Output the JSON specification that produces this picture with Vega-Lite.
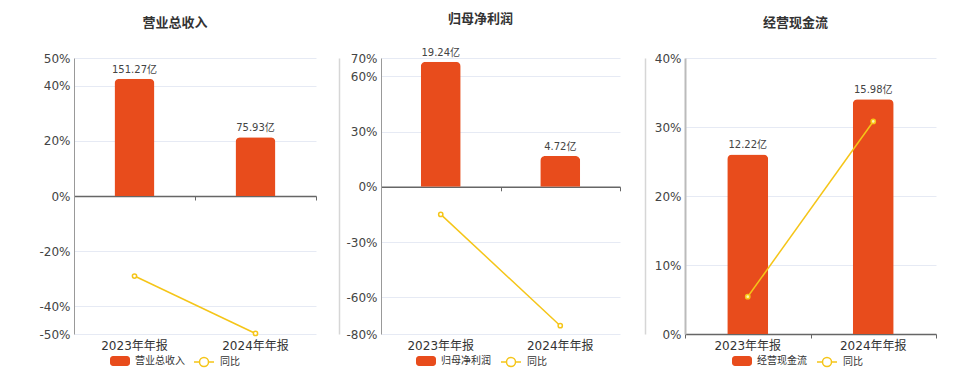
{
  "$schema": "https://vega.github.io/schema/vega-lite/v6.json",
  "background": "white",
  "padding": {"left": 38, "top": 12, "right": 0, "bottom": 0},
  "bounds": "flush",
  "spacing": 65,
  "config": {
    "font": "DejaVu Sans, Noto Sans CJK SC",
    "view": {"stroke": null},
    "title": {"font": "Noto Sans CJK SC", "fontSize": 13, "fontWeight": "bold", "color": "#333333", "anchor": "middle", "baseline": "bottom", "offset": 22},
    "legend": {"labelFont": "Noto Sans CJK SC", "labelFontSize": 10, "labelColor": "#333333", "labelOffset": 5, "padding": 0, "title": null}
  },
  "resolve": {"legend": {"fill": "independent", "stroke": "independent"}},
  "hconcat": [
    {
      "width": 242, "height": 276,
      "title": {"text": "营业总收入", "dx": -20},
      "data": {"values": [
        {"period": "2023年年报", "value": 151.27, "label": "151.27亿", "yoy": -29.0},
        {"period": "2024年年报", "value": 75.93, "label": "75.93亿", "yoy": -49.8}
      ]},
      "resolve": {"scale": {"y": "independent", "fill": "independent", "stroke": "independent"}, "axis": {"x": "independent", "y": "independent"}},
      "layer": [
        {
          "mark": {"type": "bar", "size": 40, "cornerRadiusTopLeft": 5, "cornerRadiusTopRight": 5},
          "encoding": {
            "x": {"field": "period", "type": "nominal", "sort": null, "scale": {"paddingInner": 0, "paddingOuter": 0}, "axis": {"orient": "bottom", "title": null, "labels": false, "ticks": true, "tickBand": "extent", "tickSize": 4, "tickColor": "#666666", "domainColor": "#666666", "domainWidth": 1.5, "offset": -138, "grid": false}},
            "y": {"field": "value", "type": "quantitative", "scale": {"domain": [-178, 178], "nice": false, "zero": false}, "axis": null},
            "fill": {"datum": "营业总收入", "type": "nominal", "scale": {"range": ["#e84c1c"]}, "legend": {"orient": "none", "legendX": 36, "legendY": 293, "symbolType": "M-0.7,-0.5L0.7,-0.5A0.3,0.3 0 0 1 1,-0.2L1,0.2A0.3,0.3 0 0 1 0.7,0.5L-0.7,0.5A0.3,0.3 0 0 1 -1,0.2L-1,-0.2A0.3,0.3 0 0 1 -0.7,-0.5Z", "symbolSize": 400, "symbolStrokeWidth": 0}}
          }
        },
        {
          "mark": {"type": "text", "baseline": "bottom", "dy": -4, "fontSize": 10, "color": "#444444"},
          "encoding": {
            "x": {"field": "period", "type": "nominal", "sort": null, "axis": null},
            "y": {"field": "value", "type": "quantitative", "scale": {"domain": [-178, 178], "nice": false, "zero": false}, "axis": null},
            "text": {"field": "label"}
          }
        },
        {
          "mark": {"type": "line", "color": "#f5c518", "strokeWidth": 1.5},
          "encoding": {
            "x": {"field": "period", "type": "nominal", "sort": null, "axis": {"orient": "bottom", "title": null, "domain": false, "ticks": false, "labelAngle": 0, "labelFontSize": 12, "labelColor": "#333333", "labelPadding": 6}},
            "y": {"field": "yoy", "type": "quantitative", "scale": {"domain": [-50, 50], "nice": false}, "axis": {"orient": "left", "title": null, "values": [-50, -40, -20, 0, 20, 40, 50], "labelExpr": "datum.value + '%'", "ticks": false, "labelPadding": 4, "labelFontSize": 12, "labelColor": "#444444", "domainColor": "#999999", "grid": true, "gridColor": "#e6eaf4"}},
            "stroke": {"datum": "同比", "type": "nominal", "scale": {"range": ["#f5c518"]}, "legend": {"orient": "none", "legendX": 119, "legendY": 293, "symbolType": "M-1,0L-0.45,0M0.45,0L1,0M0.45,0A0.45,0.45 0 1 1 -0.45,0A0.45,0.45 0 1 1 0.45,0Z", "symbolSize": 400, "symbolStrokeWidth": 1.5, "encode": {"symbols": {"update": {"fill": {"value": "white"}}}}}}
          }
        },
        {
          "mark": {"type": "point", "filled": true, "fill": "#ffffff", "stroke": "#f5c518", "strokeWidth": 1.5, "size": 18, "opacity": 1},
          "encoding": {
            "x": {"field": "period", "type": "nominal", "sort": null, "axis": null},
            "y": {"field": "yoy", "type": "quantitative", "scale": {"domain": [-50, 50], "nice": false}, "axis": null}
          }
        }
      ]
    },
    {
      "width": 239, "height": 276,
      "title": {"text": "归母净利润", "dx": -20},
      "data": {"values": [
        {"period": "2023年年报", "value": 19.24, "label": "19.24亿", "yoy": -15.0},
        {"period": "2024年年报", "value": 4.72, "label": "4.72亿", "yoy": -75.5}
      ]},
      "resolve": {"scale": {"y": "independent", "fill": "independent", "stroke": "independent"}, "axis": {"x": "independent", "y": "independent"}},
      "layer": [
        {
          "mark": {"type": "bar", "size": 40, "cornerRadiusTopLeft": 5, "cornerRadiusTopRight": 5},
          "encoding": {
            "x": {"field": "period", "type": "nominal", "sort": null, "scale": {"paddingInner": 0, "paddingOuter": 0}, "axis": {"orient": "bottom", "title": null, "labels": false, "ticks": true, "tickBand": "extent", "tickSize": 4, "tickColor": "#666666", "domainColor": "#666666", "domainWidth": 1.5, "offset": -147.2, "grid": false}},
            "y": {"field": "value", "type": "quantitative", "scale": {"domain": [-22.64, 19.81], "nice": false, "zero": false}, "axis": {"orient": "left", "title": null, "labels": false, "ticks": false, "grid": false, "domainColor": "#d6d6d6", "domainWidth": 1.5, "offset": 42}},
            "fill": {"datum": "归母净利润", "type": "nominal", "scale": {"range": ["#e84c1c"]}, "legend": {"orient": "none", "legendX": 35, "legendY": 293, "symbolType": "M-0.7,-0.5L0.7,-0.5A0.3,0.3 0 0 1 1,-0.2L1,0.2A0.3,0.3 0 0 1 0.7,0.5L-0.7,0.5A0.3,0.3 0 0 1 -1,0.2L-1,-0.2A0.3,0.3 0 0 1 -0.7,-0.5Z", "symbolSize": 400, "symbolStrokeWidth": 0}}
          }
        },
        {
          "mark": {"type": "text", "baseline": "bottom", "dy": -4, "fontSize": 10, "color": "#444444"},
          "encoding": {
            "x": {"field": "period", "type": "nominal", "sort": null, "axis": null},
            "y": {"field": "value", "type": "quantitative", "scale": {"domain": [-22.64, 19.81], "nice": false, "zero": false}, "axis": null},
            "text": {"field": "label"}
          }
        },
        {
          "mark": {"type": "line", "color": "#f5c518", "strokeWidth": 1.5},
          "encoding": {
            "x": {"field": "period", "type": "nominal", "sort": null, "axis": {"orient": "bottom", "title": null, "domain": false, "ticks": false, "labelAngle": 0, "labelFontSize": 12, "labelColor": "#333333", "labelPadding": 6}},
            "y": {"field": "yoy", "type": "quantitative", "scale": {"domain": [-80, 70], "nice": false}, "axis": {"orient": "left", "title": null, "values": [-80, -60, -30, 0, 30, 60, 70], "labelExpr": "datum.value + '%'", "ticks": false, "labelPadding": 4, "labelFontSize": 12, "labelColor": "#444444", "domainColor": "#999999", "grid": true, "gridColor": "#e6eaf4"}},
            "stroke": {"datum": "同比", "type": "nominal", "scale": {"range": ["#f5c518"]}, "legend": {"orient": "none", "legendX": 119, "legendY": 293, "symbolType": "M-1,0L-0.45,0M0.45,0L1,0M0.45,0A0.45,0.45 0 1 1 -0.45,0A0.45,0.45 0 1 1 0.45,0Z", "symbolSize": 400, "symbolStrokeWidth": 1.5, "encode": {"symbols": {"update": {"fill": {"value": "white"}}}}}}
          }
        },
        {
          "mark": {"type": "point", "filled": true, "fill": "#ffffff", "stroke": "#f5c518", "strokeWidth": 1.5, "size": 18, "opacity": 1},
          "encoding": {
            "x": {"field": "period", "type": "nominal", "sort": null, "axis": null},
            "y": {"field": "yoy", "type": "quantitative", "scale": {"domain": [-80, 70], "nice": false}, "axis": null}
          }
        }
      ]
    },
    {
      "width": 251, "height": 276,
      "title": {"text": "经营现金流", "dx": -15},
      "data": {"values": [
        {"period": "2023年年报", "value": 12.22, "label": "12.22亿", "yoy": 5.4},
        {"period": "2024年年报", "value": 15.98, "label": "15.98亿", "yoy": 30.8}
      ]},
      "resolve": {"scale": {"y": "independent", "fill": "independent", "stroke": "independent"}, "axis": {"x": "independent", "y": "independent"}},
      "layer": [
        {
          "mark": {"type": "bar", "size": 41, "cornerRadiusTopLeft": 5, "cornerRadiusTopRight": 5},
          "encoding": {
            "x": {"field": "period", "type": "nominal", "sort": null, "scale": {"paddingInner": 0, "paddingOuter": 0}, "axis": {"orient": "bottom", "title": null, "labels": false, "ticks": true, "tickBand": "extent", "tickSize": 4, "tickColor": "#666666", "domainColor": "#666666", "domainWidth": 1.5, "offset": 0, "grid": false}},
            "y": {"field": "value", "type": "quantitative", "scale": {"domain": [0, 18.78], "nice": false, "zero": false}, "axis": {"orient": "left", "title": null, "labels": false, "ticks": false, "grid": false, "domainColor": "#d6d6d6", "domainWidth": 1.5, "offset": 40}},
            "fill": {"datum": "经营现金流", "type": "nominal", "scale": {"range": ["#e84c1c"]}, "legend": {"orient": "none", "legendX": 47, "legendY": 293, "symbolType": "M-0.7,-0.5L0.7,-0.5A0.3,0.3 0 0 1 1,-0.2L1,0.2A0.3,0.3 0 0 1 0.7,0.5L-0.7,0.5A0.3,0.3 0 0 1 -1,0.2L-1,-0.2A0.3,0.3 0 0 1 -0.7,-0.5Z", "symbolSize": 400, "symbolStrokeWidth": 0}}
          }
        },
        {
          "mark": {"type": "text", "baseline": "bottom", "dy": -4, "fontSize": 10, "color": "#444444"},
          "encoding": {
            "x": {"field": "period", "type": "nominal", "sort": null, "axis": null},
            "y": {"field": "value", "type": "quantitative", "scale": {"domain": [0, 18.78], "nice": false, "zero": false}, "axis": null},
            "text": {"field": "label"}
          }
        },
        {
          "mark": {"type": "line", "color": "#f5c518", "strokeWidth": 1.5},
          "encoding": {
            "x": {"field": "period", "type": "nominal", "sort": null, "axis": {"orient": "bottom", "title": null, "domain": false, "ticks": false, "labelAngle": 0, "labelFontSize": 12, "labelColor": "#333333", "labelPadding": 6}},
            "y": {"field": "yoy", "type": "quantitative", "scale": {"domain": [0, 40], "nice": false}, "axis": {"orient": "left", "title": null, "values": [0, 10, 20, 30, 40], "labelExpr": "datum.value + '%'", "ticks": false, "labelPadding": 4, "labelFontSize": 12, "labelColor": "#444444", "domainColor": "#bbbbbb", "domainWidth": 2, "grid": true, "gridColor": "#e6eaf4"}},
            "stroke": {"datum": "同比", "type": "nominal", "scale": {"range": ["#f5c518"]}, "legend": {"orient": "none", "legendX": 131, "legendY": 293, "symbolType": "M-1,0L-0.45,0M0.45,0L1,0M0.45,0A0.45,0.45 0 1 1 -0.45,0A0.45,0.45 0 1 1 0.45,0Z", "symbolSize": 400, "symbolStrokeWidth": 1.5, "encode": {"symbols": {"update": {"fill": {"value": "white"}}}}}}
          }
        },
        {
          "mark": {"type": "point", "filled": true, "fill": "#fff3b0", "stroke": "#f5c518", "strokeWidth": 1.5, "size": 18, "opacity": 1},
          "encoding": {
            "x": {"field": "period", "type": "nominal", "sort": null, "axis": null},
            "y": {"field": "yoy", "type": "quantitative", "scale": {"domain": [0, 40], "nice": false}, "axis": null}
          }
        }
      ]
    }
  ]
}
